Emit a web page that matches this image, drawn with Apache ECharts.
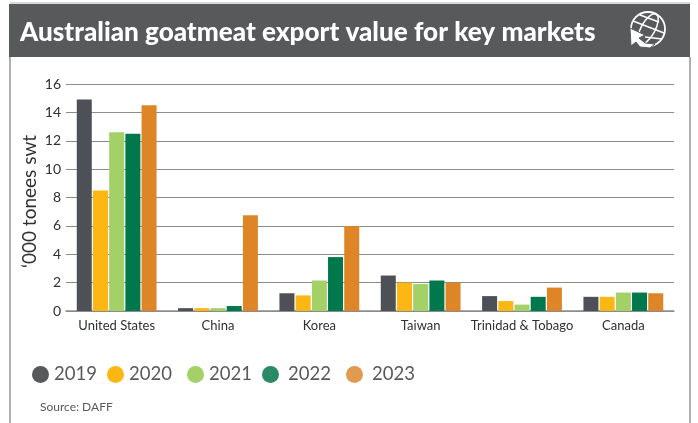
<!DOCTYPE html>
<html><head><meta charset="utf-8">
<style>html,body{margin:0;padding:0;background:#fff}#c{width:698px;height:423px}</style>
<script src="https://cdn.jsdelivr.net/npm/echarts@6/dist/echarts.min.js"></script></head>
<body><div id="c"></div>
<script>
const categories=['United States','China','Korea','Taiwan','Trinidad & Tobago','Canada'];
const v2019=[14.9,0.2,1.25,2.5,1.05,1.0];
const v2020=[8.5,0.2,1.1,2.0,0.7,1.0];
const v2021=[12.6,0.2,2.15,1.9,0.45,1.3];
const v2022=[12.5,0.35,3.8,2.15,1.0,1.3];
const v2023=[14.5,6.75,6.0,2.0,1.65,1.25];
const years=['2019','2020','2021','2022','2023'];
const values=[v2019,v2020,v2021,v2022,v2023];
const barColors=['#4d5056','#fdb714','#a3d168','#00784e','#dd8527'];
const legendColors=['#58595b','#fdb714','#a3d168','#2b8a66','#e29a50'];
const legendLeft=[32,107,187,262,346];
const legendTextPad=[5,5,5,9,9];
const chart=echarts.init(document.getElementById('c'),null,{renderer:'canvas'});
const W='#fff';
chart.setOption({
 animation:false,
 title:{text:'Australian goatmeat export value for key markets',left:20,top:20,padding:0,
  textStyle:{fontFamily:'Lato',fontWeight:900,fontSize:26.1,color:'#fff'}},
 grid:{left:66,right:24,top:84,bottom:112,containLabel:false},
 legend:years.map((y,i)=>({data:[y],left:legendLeft[i],top:365,itemWidth:17,itemHeight:17,icon:'circle',itemGap:0,padding:0,
  itemStyle:{color:legendColors[i]},
  textStyle:{fontFamily:'Lato',fontSize:18.5,color:'#58595b',padding:[0,0,0,legendTextPad[i]-5]}})),
 xAxis:{type:'category',data:categories,
  axisLine:{lineStyle:{color:'#8c8c8c',width:1.5}},axisTick:{show:false},
  axisLabel:{interval:0,margin:8,fontFamily:'Lato',fontSize:13,color:'#2f3033'}},
 yAxis:{type:'value',min:0,max:16,interval:2,
  name:'‘000 tonees swt',nameLocation:'middle',nameGap:27,nameRotate:90,nameMoveOverlap:false,
  nameTextStyle:{fontFamily:'Lato',fontSize:19,color:'#2f3033',padding:[0,8,0,0]},
  axisLine:{show:false},axisTick:{show:false},
  splitLine:{lineStyle:{color:'#8c8c8c',width:1.2}},
  axisLabel:{margin:5,fontFamily:'Lato',fontSize:14,color:'#2f3033'}},
 series:years.map((y,i)=>({name:y,type:'bar',data:values[i],barWidth:15,barGap:'8%',
  itemStyle:{color:barColors[i]}})),
 graphic:[
  {type:'rect',silent:true,z:-1,shape:{x:9,y:4,width:681,height:53},style:{fill:'#58595b'}},
  {type:'line',silent:true,shape:{x1:10,y1:3,x2:690,y2:3},style:{stroke:'#b0b0b0',lineWidth:1}},
  {type:'line',silent:true,shape:{x1:10,y1:57,x2:10,y2:423},style:{stroke:'#b0b0b0',lineWidth:2}},
  {type:'line',silent:true,shape:{x1:690,y1:57,x2:690,y2:423},style:{stroke:'#b0b0b0',lineWidth:2}},
  {type:'text',silent:true,style:{x:40,y:401,text:'Source: DAFF',fill:'#58595b',font:'12px Lato'}},
  {type:'group',silent:true,x:648,y:29,children:[
   {type:'circle',shape:{cx:0,cy:0,r:17},style:{fill:'none',stroke:W,lineWidth:1.8}},
   {type:'ellipse',shape:{cx:0,cy:0,rx:7,ry:17},style:{fill:'none',stroke:W,lineWidth:1.5},rotation:-0.5},
   {type:'line',shape:{x1:-15,y1:-8,x2:16,y2:4},style:{stroke:W,lineWidth:1.5}},
   {type:'line',shape:{x1:-8,y1:-14,x2:11,y2:-7},style:{stroke:W,lineWidth:1.5}},
   {type:'line',shape:{x1:-3,y1:8,x2:14,y2:10},style:{stroke:W,lineWidth:1.5}},
   {type:'polygon',shape:{points:[[-18,-1],[-3,6],[-9,9],[-3,14],[7,15],[2,19],[-8,18],[-12,13],[-17,17]]},style:{fill:W,stroke:'#58595b',lineWidth:1}}
  ]}
 ]
});
</script></body></html>
